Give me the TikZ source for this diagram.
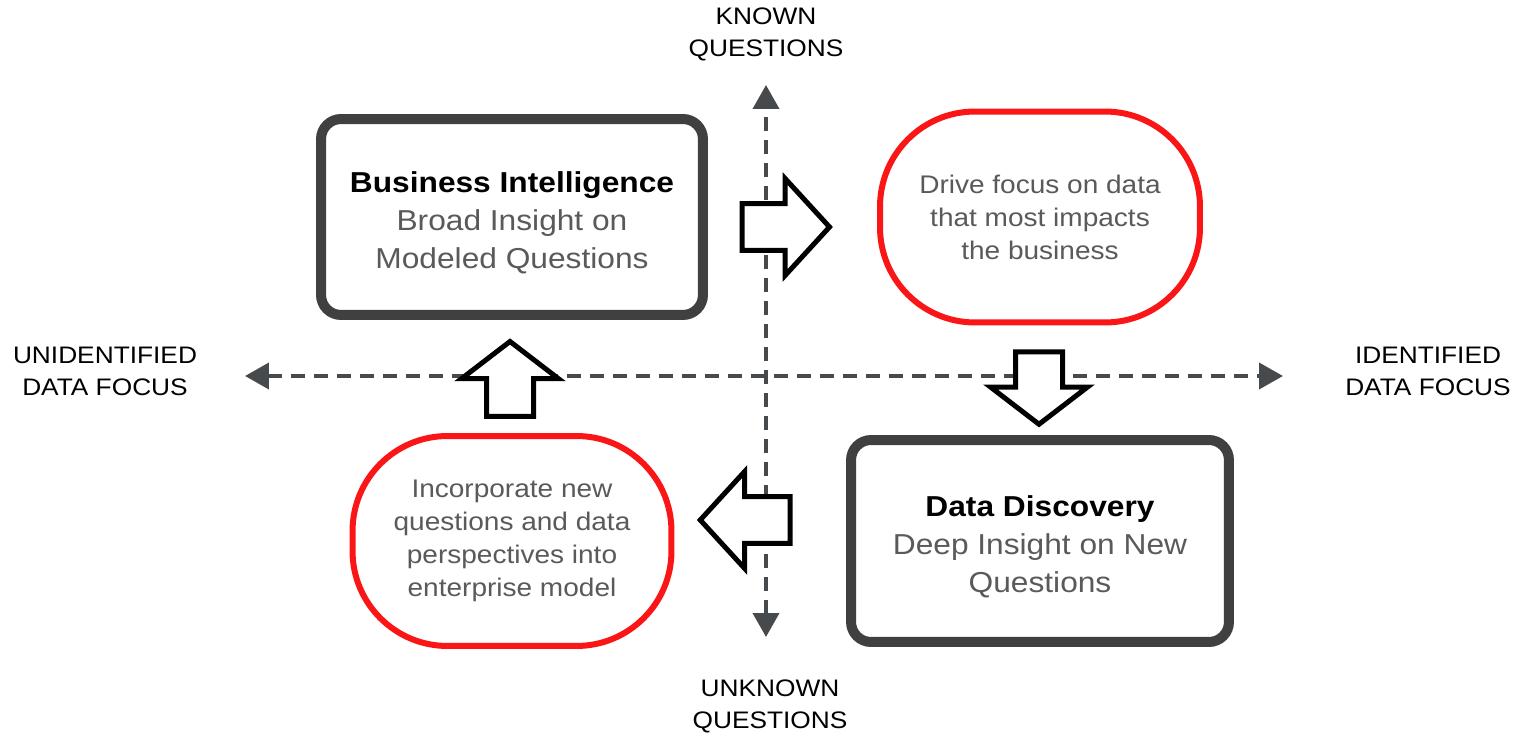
\documentclass[tikz,border=0pt]{standalone}
\usepackage{fontspec}
\setmainfont{Liberation Sans}[FakeStretch=1.1]
\usepackage{tikz}
\usetikzlibrary{arrows.meta, positioning, shapes.arrows}

\definecolor{boxgray}{RGB}{64,64,64}
\definecolor{axisgray}{RGB}{70,74,77}
\definecolor{textgray}{RGB}{90,90,90}
\definecolor{ovalred}{RGB}{250,22,22}

% taller first line, pushes the box text down a bit
\newcommand{\titlestrut}{\rule{0pt}{18pt}}

\begin{document}
\begin{tikzpicture}[
  x=0.02cm, y=-0.02cm,
  axis/.style = {line width=0.08cm, axisgray, dash pattern=on 0.28cm off 0.18cm,
                 {Triangle[width=0.52cm, length=0.48cm]}-{Triangle[width=0.52cm, length=0.48cm]}},
  axislabel/.style = {align=center, font=\fontsize{13.6}{18.2}\selectfont},
  quadbox/.style = {draw=boxgray, line width=0.2cm, fill=white, rounded corners=0.4cm,
                    align=center, text=textgray, font=\fontsize{16.4}{21.6}\selectfont},
  stepoval/.style = {draw=ovalred, line width=0.12cm, fill=white, rounded corners=1.9cm,
                     align=center, text=textgray, font=\fontsize{14.5}{18.8}\selectfont},
  blockarrow/.style = {single arrow, draw=black, line width=0.1cm, fill=white, inner sep=0.42cm,
                       single arrow head extend=0.5cm}
]

% Canvas
\useasboundingbox (0,0) rectangle (1522,736);

% Axis ends
\coordinate (qtop) at (766,85);
\coordinate (qbot) at (766,637);
\coordinate (fleft) at (245,376);
\coordinate (fright) at (1283,376);

% Dashed axes
\draw[axis] (qbot) -- (qtop);
\draw[axis] (fleft) -- (fright);

% Axis labels
\node[axislabel] (known) at (766,34) {KNOWN\\QUESTIONS};
\node[axislabel] (unknown) at (770,706) {UNKNOWN\\QUESTIONS};
\node[axislabel] (unident) at (105,371) {UNIDENTIFIED\\DATA FOCUS};
\node[axislabel] (ident) at (1428,371) {IDENTIFIED\\DATA FOCUS};

% Quadrant boxes
\node[quadbox, minimum width=7.64cm, minimum height=3.92cm] (bi) at (512,217)
  {\titlestrut{\color{black}\bfseries Business Intelligence}\\Broad Insight on\\Modeled Questions};
\node[quadbox, minimum width=7.56cm, minimum height=4.04cm] (dd) at (1040,541)
  {\titlestrut{\color{black}\bfseries Data Discovery}\\Deep Insight on New\\Questions};

% Steps in between
\node[stepoval, minimum width=6.4cm, minimum height=4.22cm] (drive) at (1040,217)
  {Drive focus on data\\that most impacts\\the business};
\node[stepoval, minimum width=6.38cm, minimum height=4.2cm] (incorp) at (512,541)
  {Incorporate new\\questions and data\\perspectives into\\enterprise model};

% Block arrows of the cycle
\node[blockarrow, minimum height=1.75cm, single arrow tip angle=95] (torightarr) at (775,227) {};
\node[blockarrow, minimum height=1.45cm, single arrow tip angle=105, shape border rotate=270] (todownarr) at (1039,379) {};
\node[blockarrow, minimum height=1.8cm, single arrow tip angle=95, shape border rotate=180] (toleftarr) at (756,520) {};
\node[blockarrow, minimum height=1.5cm, single arrow tip angle=105, shape border rotate=90] (touparr) at (510,388) {};

\end{tikzpicture}
\end{document}
